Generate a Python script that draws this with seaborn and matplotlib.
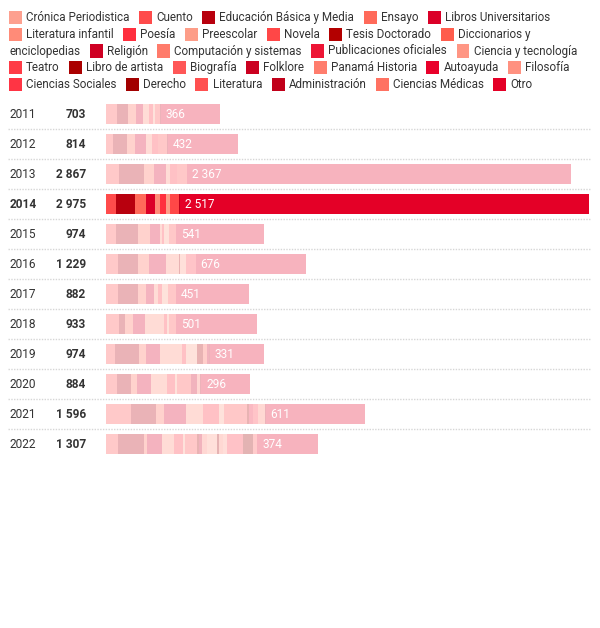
import matplotlib
matplotlib.use("Agg")
import matplotlib.pyplot as plt
import matplotlib.transforms as mtransforms
from matplotlib.patches import Rectangle
from matplotlib.colors import to_rgb
import pandas as pd
import seaborn as sns

# ===== DATA =====
years = [2011, 2012, 2013, 2014, 2015, 2016, 2017, 2018, 2019, 2020, 2021, 2022]
highlight_year = 2014

categories = [
    "Crónica Periodistica", "Cuento", "Educación Básica y Media", "Ensayo",
    "Libros Universitarios", "Literatura infantil", "Poesía", "Preescolar",
    "Novela", "Tesis Doctorado", "Diccionarios y enciclopedias", "Religión",
    "Computación y sistemas", "Publicaciones oficiales", "Ciencia y tecnología",
    "Teatro", "Libro de artista", "Biografía", "Folklore", "Panamá Historia",
    "Autoayuda", "Filosofía", "Ciencias Sociales", "Derecho", "Literatura",
    "Administración", "Ciencias Médicas", "Otro",
]

colors = [
    "#fda08f", "#ff4b4b", "#b8000e", "#ff6a5a", "#db0028", "#ff8b78", "#ff2f3e",
    "#fd9d88", "#ff4747", "#b30000", "#ff5d4d", "#cf0023", "#ff7b6b", "#ed1535",
    "#ff9684", "#ff3b46", "#aa0000", "#ff5757", "#cb0020", "#ff7d6d", "#e9002b",
    "#ff9180", "#ff3444", "#a20000", "#ff5050", "#c1001a", "#ff7262", "#e40027",
]

#                     2011 2012 2013 2014 2015 2016 2017 2018 2019 2020 2021 2022
cronica =            [0,   0,   0,   0,   0,   0,   0,   0,   0,   0,   0,   0]
cuento =             [67,  45,  80,  64,  60,  76,  76,  80,  56,  66,  152, 76]
educacion =          [66,  86,  154, 113, 140, 123, 123, 37,  148, 86,  156, 158]
ensayo =             [54,  49,  62,  72,  72,  66,  47,  47,  41,  41,  49,  20]
libros_univ =        [40,  66,  72,  51,  62,  103, 49,  76,  90,  82,  136, 88]
lit_infantil =       [36,  37,  27,  31,  10,  82,  27,  115, 131, 103, 103, 76]
poesia =             [24,  39,  41,  41,  16,  0,   20,  20,  29,  47,  97,  56]
preescolar =         [17,  0,   0,   20,  25,  0,   37,  10,  68,  14,  35,  12]
novela =             [27,  56,  64,  56,  48,  0,   52,  47,  0,   82,  140, 76]
tesis =              [0,   0,   0,   0,   0,   6,   0,   0,   35,  0,   14,  10]
diccionarios =       [0,   0,   0,   0,   0,   0,   0,   0,   27,  0,   0,   0]
religion =           [0,   0,   0,   0,   0,   0,   0,   0,   12,  37,  0,   20]
computacion =        [0,   0,   0,   0,   0,   0,   0,   0,   0,   24,  0,   31]
publicaciones =      [0,   0,   0,   0,   0,   0,   0,   0,   0,   0,   23,  0]
ciencia_tec =        [0,   0,   0,   0,   0,   37,  0,   0,   0,   0,   0,   62]
teatro =             [0,   0,   0,   0,   0,   60,  0,   0,   0,   0,   33,  0]
libro_artista =      [0,   0,   0,   0,   0,   0,   0,   0,   0,   0,   0,   10]
biografia =          [0,   0,   0,   0,   0,   0,   0,   0,   0,   0,   0,   0]
folklore =           [0,   0,   0,   0,   0,   0,   0,   0,   0,   0,   0,   0]
panama_historia =    [0,   0,   0,   0,   0,   0,   0,   0,   0,   0,   41,  25]
autoayuda =          [0,   0,   0,   0,   0,   0,   0,   0,   0,   0,   0,   0]
filosofia =          [0,   0,   0,   0,   0,   0,   0,   0,   0,   0,   0,   27]
ciencias_sociales =  [0,   0,   0,   0,   0,   0,   0,   0,   0,   0,   0,   98]
derecho =            [0,   0,   0,   0,   0,   0,   0,   0,   0,   0,   0,   62]
literatura =         [0,   0,   0,   0,   0,   0,   0,   0,   0,   0,   0,   20]
administracion =     [6,   4,   0,   10,  0,   0,   0,   0,   6,   6,   6,   6]
ciencias_medicas =   [0,   0,   0,   0,   0,   0,   0,   0,   0,   0,   0,   0]
otro =               [366, 432, 2367, 2517, 541, 676, 451, 501, 331, 296, 611, 374]

series = [
    cronica, cuento, educacion, ensayo, libros_univ, lit_infantil, poesia,
    preescolar, novela, tesis, diccionarios, religion, computacion,
    publicaciones, ciencia_tec, teatro, libro_artista, biografia, folklore,
    panama_historia, autoayuda, filosofia, ciencias_sociales, derecho,
    literatura, administracion, ciencias_medicas, otro,
]

# Legend lines as drawn in the original (item index, label override)
legend_lines = [
    [(0, None), (1, None), (2, None), (3, None), (4, None)],
    [(5, None), (6, None), (7, None), (8, None), (9, None), (10, "Diccionarios y")],
    [(-1, "enciclopedias"), (11, None), (12, None), (13, None), (14, None)],
    [(15, None), (16, None), (17, None), (18, None), (19, None), (20, None), (21, None)],
    [(22, None), (23, None), (24, None), (25, None), (26, None), (27, None)],
]

# ===== SETTINGS =====
W, H = 600, 628
font_size = 8.6
legend_font_size = 8.4
text_color = "#333333"
fade = 0.3


def faded(c):
    r, g, b = to_rgb(c)
    return (1 - fade + fade * r, 1 - fade + fade * g, 1 - fade + fade * b)


def fmt(v):
    return f"{v:,}".replace(",", " ")


sns.set_theme(style="white")
plt.rcParams["font.family"] = ["Roboto", "DejaVu Sans"]

fig = plt.figure(figsize=(W / 100, H / 100), dpi=100)
ax = fig.add_axes([106 / W, 1 - 459 / H, 483 / W, 360 / H])

year_labels = [str(y) for y in years]
totals = [sum(s[i] for s in series) for i in range(len(years))]

# ===== STACKED BARS (drawn from the last layer back to the first) =====
cum = []
running = [0] * len(years)
for s in series:
    running = [running[i] + s[i] for i in range(len(years))]
    cum.append(running)

for k in reversed(range(len(series))):
    df = pd.DataFrame({"year": year_labels, "value": cum[k]})
    pal = {
        yl: (to_rgb(colors[k]) if int(yl) == highlight_year else faded(colors[k]))
        for yl in year_labels
    }
    sns.barplot(
        data=df, x="value", y="year", hue="year", palette=pal,
        order=year_labels, hue_order=year_labels, orient="h",
        width=0.64, saturation=1, linewidth=0, legend=False, ax=ax,
    )

ax.set_xlim(0, totals[years.index(highlight_year)])
ax.set_ylim(len(years) - 0.5, -0.5)
ax.axis("off")

trans = mtransforms.blended_transform_factory(fig.transFigure, ax.transData)

# ===== ROW LABELS, TOTALS, OTRO VALUES =====
before_otro = cum[-2]
for i, y in enumerate(years):
    bold = "bold" if y == highlight_year else "normal"
    ax.text(10 / W, i, str(y), transform=trans, ha="left", va="center",
            fontsize=font_size, fontweight=bold, color=text_color)
    ax.text(86 / W, i, fmt(totals[i]), transform=trans, ha="right",
            va="center", fontsize=font_size, fontweight="bold", color=text_color)
    ax.text(before_otro[i] + 28, i, fmt(otro[i]), ha="left", va="center",
            fontsize=font_size, color="white")

# dotted separators
for i in range(len(years) - 1):
    ax.plot([8 / W, 590 / W], [i + 0.5, i + 0.5], transform=trans,
            color="#d6d6d6", lw=1.0, ls=(0, (1, 1)), clip_on=False)

# ===== LEGEND (flowing layout) =====
fig.canvas.draw()
renderer = fig.canvas.get_renderer()
sw = 13
for line_idx, items in enumerate(legend_lines):
    yc = 17.5 + 16.75 * line_idx
    x = 9
    for idx, label in items:
        if idx >= 0:
            fig.patches.append(Rectangle(
                (x / W, 1 - (yc + sw / 2) / H), sw / W, sw / H,
                transform=fig.transFigure, facecolor=colors[idx],
                edgecolor="none"))
            x += sw + 4
        txt = label if label is not None else categories[idx]
        t = fig.text(x / W, 1 - yc / H, txt, ha="left", va="center",
                     fontsize=legend_font_size, color=text_color)
        x += t.get_window_extent(renderer).width + 9.5

fig.savefig("out.png", dpi=100)
